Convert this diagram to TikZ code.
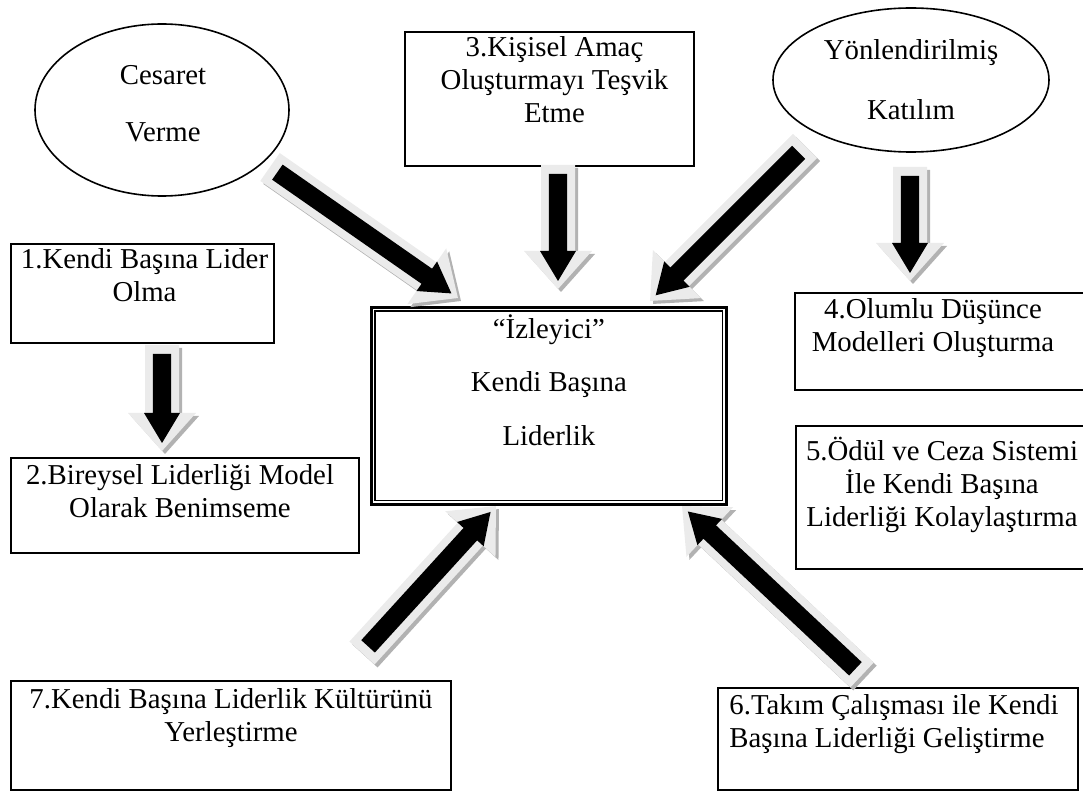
\documentclass[tikz,border=0pt]{standalone}
\usepackage{fontspec}
\setmainfont{Liberation Serif}
\usetikzlibrary{shapes.geometric,calc,positioning}

%% block arrow outline: start inset, tip inset, shaft half, head half, head length
\newcommand{\arrpoly}[5]{(#1,-#3) -- ({\arrlen pt-#2-#5},-#3) -- ({\arrlen pt-#2-#5},-#4) -- ({\arrlen pt-#2},0pt) -- ({\arrlen pt-#2-#5},#4) -- ({\arrlen pt-#2-#5},#3) -- (#1,#3) -- cycle}
\newcommand{\bigarrow}[2]{%
  \pgfmathanglebetweenpoints{\pgfpointanchor{#1}{center}}{\pgfpointanchor{#2}{center}}%
  \let\arrang\pgfmathresult
  \path let \p1=($(#2)-(#1)$) in \pgfextra{\pgfmathsetmacro\arrlentmp{veclen(\x1,\y1)}\global\let\arrlen\arrlentmp};
  \begin{scope}[shift={($(#1)+(1.5pt,-1.5pt)$)},rotate=\arrang]
    \fill[arrowshadow] \arrpoly{0pt}{0pt}{8.5pt}{17pt}{19pt};
  \end{scope}
  \begin{scope}[shift={(#1)},rotate=\arrang]
    \fill[arrowlight] \arrpoly{0pt}{0pt}{8.5pt}{17pt}{19pt};
    \fill[black] \arrpoly{4.5pt}{4pt}{4.6pt}{9pt}{15pt};
  \end{scope}}

\begin{document}
\begin{tikzpicture}[x=0.5pt,y=-0.5pt,
    box/.style={draw,line width=1pt,anchor=north west,inner sep=0pt},
    boxtext/.style={anchor=north,inner sep=0pt,align=center,font=\fontsize{14.4}{16.5}\selectfont,execute at begin node=\strut},
    oval/.style={draw,ellipse,line width=0.8pt,inner sep=0pt,align=center,font=\fontsize{14.4}{28.5}\selectfont},
    arrowshadow/.style={fill=black!30},
    arrowlight/.style={fill=black!8}]
  \useasboundingbox (0,0) rectangle (1083,791);

  %% ovals
  \node[oval,minimum width=127pt,minimum height=86pt] (ces) at (162,110) {};
  \node[oval,draw=none] (cestxt) at (163,104) {Cesaret\\Verme};
  \node[oval,minimum width=138pt,minimum height=72pt,font=\fontsize{14.4}{30}\selectfont] (yon) at (911,80) {Yönlendirilmiş\\Katılım};

  %% centre box, thick-thin border
  \node[draw,line width=1.4pt,minimum width=177.5pt,minimum height=98.5pt,anchor=north west,inner sep=0pt] (izl) at (370,306) {};
  \draw[line width=0.6pt] ($(izl.north west)+(5,5)$) rectangle ($(izl.south east)+(-5,-5)$);
  \node[boxtext,font=\fontsize{14.4}{26.75}\selectfont] (izltxt) at ($(izl.north)+(0,8)$) {“İzleyici”\\Kendi Başına\\Liderlik};

  %% steps
  \node[box,minimum width=131.5pt,minimum height=49.5pt] (b1) at (10,243) {};
  \node[boxtext] (t1) at ($(b1.north)+(2,5)$) {1.Kendi Başına Lider\\Olma};
  \node[box,minimum width=174pt,minimum height=47.5pt] (b2) at (10,457) {};
  \node[boxtext] (t2) at ($(b2.north)+(-5,7)$) {2.Bireysel Liderliği Model\\Olarak Benimseme};
  \node[box,minimum width=144.5pt,minimum height=67pt] (b3) at (404,31) {};
  \node[boxtext] (t3) at ($(b3.north)+(5,5)$) {3.Kişisel Amaç\\Oluşturmayı Teşvik\\Etme};
  \node[box,minimum width=150pt,minimum height=48.5pt] (b4) at (794,292) {};
  \node[boxtext] (t4) at (933,298) {4.Olumlu Düşünce\\Modelleri Oluşturma};
  \node[box,minimum width=150pt,minimum height=71.5pt] (b5) at (795,425) {};
  \node[boxtext] (t5) at (942,437) {5.Ödül ve Ceza Sistemi\\İle Kendi Başına\\Liderliği Kolaylaştırma};
  \node[box,minimum width=180pt,minimum height=51pt] (b6) at (717,687) {};
  \node[boxtext,anchor=north west,align=left] (t6) at ($(b6.north west)+(12,7)$) {6.Takım Çalışması ile Kendi\\Başına Liderliği Geliştirme};
  \node[box,minimum width=220pt,minimum height=54.5pt] (b7) at (10,680) {};
  \node[boxtext] (t7) at ($(b7.north)+(0,8)$) {7.Kendi Başına Liderlik Kültürünü\\Yerleştirme};

  %% arrows
  \coordinate (a1s) at (270,167);
  \coordinate (a1e) at (458,298);
  \coordinate (a2s) at (558,165);
  \coordinate (a2e) at (558,289);
  \coordinate (a3s) at (805,146);
  \coordinate (a3e) at (650,301);
  \coordinate (a4s) at (910,167);
  \coordinate (a4e) at (910,281);
  \coordinate (a5s) at (162,345);
  \coordinate (a5e) at (162,451);
  \coordinate (a6s) at (862,675);
  \coordinate (a6e) at (682,506);
  \coordinate (a7s) at (362,653);
  \coordinate (a7e) at (496,506);
  \bigarrow{a1s}{a1e}
  \bigarrow{a2s}{a2e}
  \bigarrow{a3s}{a3e}
  \bigarrow{a4s}{a4e}
  \bigarrow{a5s}{a5e}
  \bigarrow{a6s}{a6e}
  \bigarrow{a7s}{a7e}
\end{tikzpicture}
\end{document}
